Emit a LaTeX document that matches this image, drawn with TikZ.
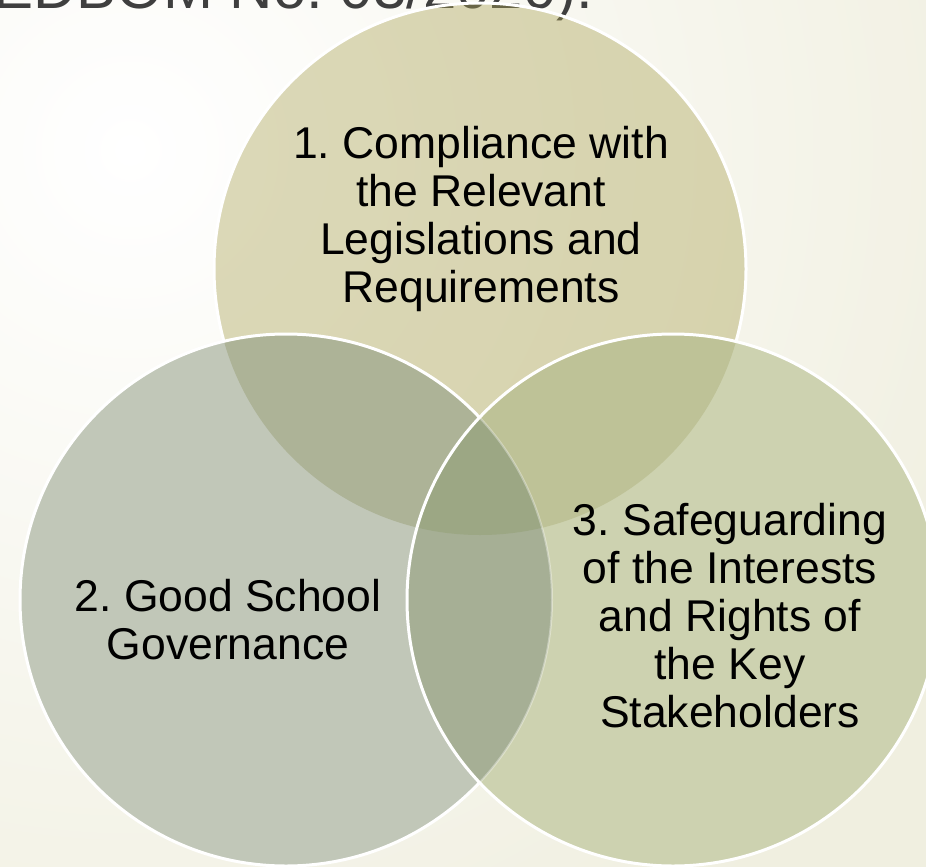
\documentclass[tikz,border=0pt]{standalone}
\usepackage{fontspec}
\setmainfont{Liberation Sans}
\frenchspacing

\definecolor{bgcream}{HTML}{F0EFE0}
\definecolor{headink}{HTML}{3F3F3F}
\definecolor{onebase}{HTML}{A9A152}
\definecolor{twofill}{HTML}{C1C7B8}
\definecolor{threefill}{HTML}{CDD2B0}
\definecolor{onetwo}{HTML}{ADB397}
\definecolor{onethree}{HTML}{BEC297}
\definecolor{twothree}{HTML}{A6AF95}
\definecolor{allthree}{HTML}{9CA784}

\newcommand{\rad}{266}

\tikzset{
  rim/.style={draw=white, line width=3pt},
  venntext/.style={align=center, text=black,
    font=\fontsize{44.5}{48}\selectfont},
}

\begin{document}
\begin{tikzpicture}[x=1pt, y=-1pt]
  \useasboundingbox (0,0) rectangle (926,867);
  \coordinate (one)   at (480,269);
  \coordinate (two)   at (286,600);
  \coordinate (three) at (673,600);

  % backdrop
  \fill[bgcream] (0,0) rectangle (926,867);
  \begin{scope}
    \clip (0,0) rectangle (926,867);
    \shade[inner color=white, outer color=bgcream] (130,150) circle (950);
  \end{scope}

  \node[anchor=base west, inner sep=0pt, text=headink,
        font=\fontsize{60}{72}\selectfont] (ref) at (-7,9) {EDBOM No. 03/2020).};

  % first circle lets the heading show through
  \fill[onebase, fill opacity=.4] (one) circle (\rad);
  \draw[rim] (one) circle (\rad);

  \fill[twofill] (two) circle (\rad);
  \begin{scope}
    \clip (one) circle (\rad);
    \fill[onetwo] (two) circle (\rad);
  \end{scope}
  \draw[rim] (two) circle (\rad);

  \fill[threefill] (three) circle (\rad);
  \begin{scope}
    \clip (one) circle (\rad);
    \fill[onethree] (three) circle (\rad);
  \end{scope}
  \begin{scope}
    \clip (two) circle (\rad);
    \fill[twothree] (three) circle (\rad);
    \clip (one) circle (\rad);
    \fill[allthree] (three) circle (\rad);
  \end{scope}
  \begin{scope}
    \clip (three) circle (\rad);
    \draw[white, opacity=.35, line width=2pt] (two) circle (\rad);
  \end{scope}
  \draw[rim] (three) circle (\rad);

  \node[venntext] (compliance) at (481,219)
    {1. Compliance with\\the Relevant\\Legislations and\\Requirements};
  \node[venntext] (governance) at (228,620)
    {2. Good School\\Governance};
  \node[venntext] (safeguard) at (730,616)
    {3. Safeguarding\\of the Interests\\and Rights of\\the Key\\Stakeholders};
\end{tikzpicture}
\end{document}
